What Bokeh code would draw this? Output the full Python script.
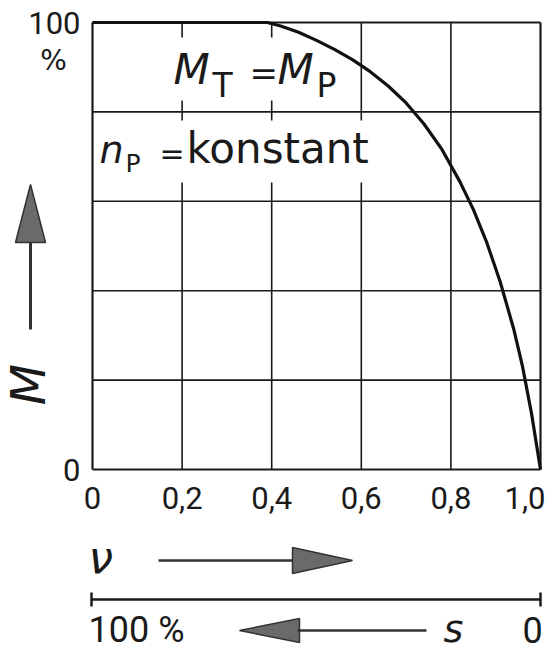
import math
from bokeh.plotting import figure
from bokeh.models import Range1d, LinearAxis, FixedTicker
from bokeh.core.properties import value
from bokeh.embed import file_html
from bokeh.resources import INLINE

# ---------------- data ----------------
nu = [0.0, 0.2, 0.39, 0.42, 0.46, 0.50, 0.54, 0.58, 0.62, 0.66, 0.70,
      0.74, 0.78, 0.82, 0.85, 0.88, 0.91, 0.94, 0.96, 0.98, 1.0]
M = [100, 100, 100, 99.2, 97.8, 96.0, 94.0, 91.7, 89.0, 85.8, 82.0,
     77.3, 71.6, 64.4, 58.2, 50.8, 42.0, 31.5, 23.0, 12.5, 0.0]

nu_ticks = [0, 0.2, 0.4, 0.6, 0.8, 1]
nu_tick_labels = ["0", "0,2", "0,4", "0,6", "0,8", "1,0"]
M_ticks = [0, 100]
M_tick_labels = ["0", "100"]
grid_nu = [0, 0.2, 0.4, 0.6, 0.8, 1]
grid_M = [0, 20, 40, 60, 80, 100]

# ---------------- layout helpers (page pixels -> data) ----------------
PX0, PX1 = 100.0, 548.0     # nu = 0 .. 1
PY0, PY100 = 477.0, 30.0    # M = 0 .. 100
SX = (PX1 - PX0)
SY = (PY0 - PY100) / 100.0


def X(px):
    return (px - PX0) / SX


def Y(py):
    return (PY0 - py) / SY


W, H = 545, 654
p = figure(width=W, height=H, output_backend="svg", toolbar_location=None,
           x_range=Range1d(X(8), X(8 + W)), y_range=Range1d(Y(8 + H), Y(8)),
           x_axis_type=None, y_axis_type=None, min_border=0,
           outline_line_color=None)
p.background_fill_color = "white"
p.border_fill_color = "white"

INK = "#1a1a1a"
DJ = value("DejaVu Sans")
RB = value("Roboto")

# grid: vertical lines first
p.segment(x0=grid_nu[1:-1], y0=[grid_M[0]] * 4, x1=grid_nu[1:-1], y1=[grid_M[-1]] * 4,
          line_color=INK, line_width=1.6)
# white boxes behind the inscription (hide vertical grid lines there)
p.quad(left=[X(150), X(105)], right=[X(362), X(395)],
       top=[Y(45), Y(128)], bottom=[Y(108), Y(190)],
       fill_color="white", line_color=None)
# horizontal lines
p.segment(x0=[grid_nu[0]] * 4, y0=grid_M[1:-1], x1=[grid_nu[-1]] * 4, y1=grid_M[1:-1],
          line_color=INK, line_width=1.6)
# frame
p.segment(x0=[grid_nu[0], grid_nu[0], grid_nu[0], grid_nu[-1]],
          y0=[grid_M[0], grid_M[-1], grid_M[0], grid_M[0]],
          x1=[grid_nu[-1], grid_nu[-1], grid_nu[0], grid_nu[-1]],
          y1=[grid_M[0], grid_M[-1], grid_M[-1], grid_M[-1]],
          line_color=INK, line_width=2.2)

# curve
p.line(nu, M, line_color="#111111", line_width=3.2, line_join="round")

# axes (fixed inside the canvas)
xaxis = LinearAxis(fixed_location=0, bounds=(0, 1),
                   ticker=FixedTicker(ticks=nu_ticks),
                   major_label_overrides=dict(zip(nu_ticks, nu_tick_labels)),
                   axis_line_color=None, major_tick_line_color=None,
                   minor_tick_line_color=None, major_tick_out=0, major_tick_in=0,
                   major_label_standoff=17,
                   major_label_text_font="Roboto", major_label_text_font_size="31px",
                   major_label_text_color=INK)
p.add_layout(xaxis, "below")
yaxis = LinearAxis(fixed_location=0, bounds=(0, 100),
                   ticker=FixedTicker(ticks=M_ticks),
                   major_label_overrides=dict(zip(M_ticks, M_tick_labels)),
                   axis_line_color=None, major_tick_line_color=None,
                   minor_tick_line_color=None, major_tick_out=0, major_tick_in=0,
                   major_label_standoff=12,
                   major_label_text_font="Roboto", major_label_text_font_size="31px",
                   major_label_text_color=INK)
p.add_layout(yaxis, "left")

SHIFT = 0.37  # baseline correction (fraction of font size)


def txt(px, py, s, size, font=DJ, style="normal", align="left", angle=0.0, shift=True):
    yy = py - SHIFT * size if shift else py
    p.text(x=[X(px)], y=[Y(yy)], text=[s], text_font=font, text_font_size=f"{size}px",
           text_font_style=style, text_align=align, text_baseline="alphabetic",
           angle=angle, text_color=INK)


# inscription  M_T = M_P
txt(181, 93, "M", 42, style="italic")
txt(220, 105, "T", 33)
txt(257, 93, "=", 34)
txt(285, 93, "M", 42, style="italic")
txt(324, 105, "P", 33)
# n_P = konstant
txt(107, 172, "n", 38, style="italic")
txt(133, 180, "P", 25)
txt(167, 172, "=", 30)
txt(194, 172, "konstant", 42)

# unit under 100
txt(61, 78, "%", 28, align="center")

# left: arrow up and rotated M
p.segment(x0=[X(38)], y0=[Y(337)], x1=[X(38)], y1=[Y(248)], line_color="#333333", line_width=3)
p.patch(x=[X(38), X(23), X(53)], y=[Y(192), Y(250), Y(250)],
        fill_color="#6a6a6a", line_color="#333333", line_width=1.5)
txt(35, 392, "M", 48, style="italic", align="center", angle=math.pi / 2, shift=False)

# below: nu with arrow
txt(96, 581, "\u03bd", 44, style="italic")
p.segment(x0=[X(166)], y0=[Y(568)], x1=[X(302)], y1=[Y(568)], line_color="#333333", line_width=2.5)
p.patch(x=[X(300), X(360), X(300)], y=[Y(555), Y(568), Y(581)],
        fill_color="#6a6a6a", line_color="#333333", line_width=1.5)

# slip scale line
p.segment(x0=[X(99), X(99), X(548)], y0=[Y(607), Y(600), Y(600)],
          x1=[X(548), X(99), X(548)], y1=[Y(607), Y(614), Y(614)],
          line_color=INK, line_width=2.5)

# bottom row: 100 %  <---  s   0
txt(96, 651, "100 %", 36, font=RB)
p.patch(x=[X(247), X(307), X(307)], y=[Y(638), Y(626), Y(650)],
        fill_color="#6a6a6a", line_color="#333333", line_width=1.5)
p.segment(x0=[X(305)], y0=[Y(638)], x1=[X(434)], y1=[Y(638)], line_color="#333333", line_width=2.5)
txt(451, 651, "s", 38, style="italic")
txt(530, 651, "0", 36, font=RB)

open("out.html", "w").write(file_html(p, INLINE))
